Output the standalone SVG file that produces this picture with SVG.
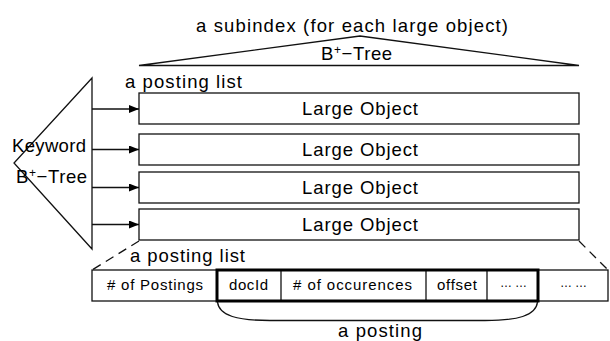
<svg xmlns="http://www.w3.org/2000/svg" width="610" height="341" viewBox="0 0 610 341">
<style>
  .ln{fill:none;stroke:#111;stroke-width:1.3}
  .bx{fill:#fff;stroke:#111;stroke-width:1.3}
  .thick{fill:none;stroke:#000;stroke-width:3}
  .t{font-family:"Liberation Sans",Arial,sans-serif;fill:#000}
  .big{font-size:18.5px}
  .sm{font-size:15px}
  .dash{fill:none;stroke:#111;stroke-width:1.3;stroke-dasharray:9 6}
</style>
<defs>
  <marker id="ah" viewBox="0 0 10 8" refX="10" refY="4" markerWidth="10" markerHeight="8" markerUnits="userSpaceOnUse" orient="auto">
    <path d="M0,0 L10,4 L0,8 Z" fill="#000"/>
  </marker>
</defs>
<rect width="610" height="341" fill="#fff"/>

<g id="subindex-tree">
  <text class="t big" x="352" y="32" text-anchor="middle" textLength="312" lengthAdjust="spacing">a subindex (for each large object)</text>
  <path class="ln" d="M139,65.5 L360,36 L579,65.5 Z"/>
  <text class="t big" x="321" y="60" letter-spacing="0.6">B<tspan font-size="12" dy="-6.5">+</tspan><tspan dy="6.5">−Tree</tspan></text>
</g>

<g id="keyword-tree">
  <path class="ln" d="M92,78 L14,163 L92,249 Z"/>
  <text class="t big" x="12" y="152" textLength="74" lengthAdjust="spacing">Keyword</text>
  <text class="t big" x="16" y="183" letter-spacing="0.6">B<tspan font-size="12" dy="-6.5">+</tspan><tspan dy="6.5">−Tree</tspan></text>
</g>

<g id="label-posting-list-top">
  <text class="t big" x="125" y="87.5" textLength="117" lengthAdjust="spacing">a posting list</text>
</g>

<g id="large-object-1">
  <rect class="bx" x="139" y="93" width="440" height="31"/>
  <text class="t big" x="360" y="115" text-anchor="middle" textLength="116" lengthAdjust="spacing">Large Object</text>
</g>
<g id="large-object-2">
  <rect class="bx" x="139" y="134" width="440" height="31"/>
  <text class="t big" x="360" y="156" text-anchor="middle" textLength="116" lengthAdjust="spacing">Large Object</text>
</g>
<g id="large-object-3">
  <rect class="bx" x="139" y="172" width="440" height="31"/>
  <text class="t big" x="360" y="194" text-anchor="middle" textLength="116" lengthAdjust="spacing">Large Object</text>
</g>
<g id="large-object-4">
  <rect class="bx" x="139" y="209" width="440" height="31"/>
  <text class="t big" x="360" y="231" text-anchor="middle" textLength="116" lengthAdjust="spacing">Large Object</text>
</g>

<g id="connectors">
  <line class="ln" x1="92" y1="109" x2="139" y2="109" marker-end="url(#ah)"/>
  <line class="ln" x1="92" y1="149.5" x2="139" y2="149.5" marker-end="url(#ah)"/>
  <line class="ln" x1="92" y1="187.5" x2="139" y2="187.5" marker-end="url(#ah)"/>
  <line class="ln" x1="92" y1="224.5" x2="139" y2="224.5" marker-end="url(#ah)"/>
  <line class="dash" x1="139" y1="241" x2="92" y2="270"/>
  <line class="dash" x1="579" y1="241" x2="608" y2="270"/>
</g>

<g id="label-posting-list-bottom">
  <text class="t big" x="130" y="262" textLength="115" lengthAdjust="spacing">a posting list</text>
</g>

<g id="posting-list-row">
  <rect class="bx" x="92" y="270" width="516" height="31"/>
  <line class="ln" x1="281" y1="270" x2="281" y2="301"/>
  <line class="ln" x1="426" y1="270" x2="426" y2="301"/>
  <line class="ln" x1="487" y1="270" x2="487" y2="301"/>
  <rect class="thick" x="217" y="270" width="321" height="31"/>
  <text class="t sm" x="155" y="290" text-anchor="middle" textLength="96" lengthAdjust="spacing"># of Postings</text>
  <text class="t sm" x="248.5" y="290" text-anchor="middle" textLength="39" lengthAdjust="spacing">docId</text>
  <text class="t sm" x="352.5" y="290" text-anchor="middle" textLength="119" lengthAdjust="spacing"># of occurences</text>
  <text class="t sm" x="457" y="290" text-anchor="middle" textLength="40" lengthAdjust="spacing">offset</text>
  <text class="t" font-size="12" x="513.5" y="287" text-anchor="middle" textLength="27" lengthAdjust="spacing">……</text>
  <text class="t" font-size="12" x="573.5" y="287" text-anchor="middle" textLength="27" lengthAdjust="spacing">……</text>
</g>

<g id="posting-brace">
  <path class="ln" d="M217.5,302 C219,316 238,320.5 270,320.5 L485,320.5 C517,320.5 536,316 537.5,302"/>
  <text class="t big" x="380" y="337" text-anchor="middle" textLength="84" lengthAdjust="spacing">a posting</text>
</g>
</svg>
